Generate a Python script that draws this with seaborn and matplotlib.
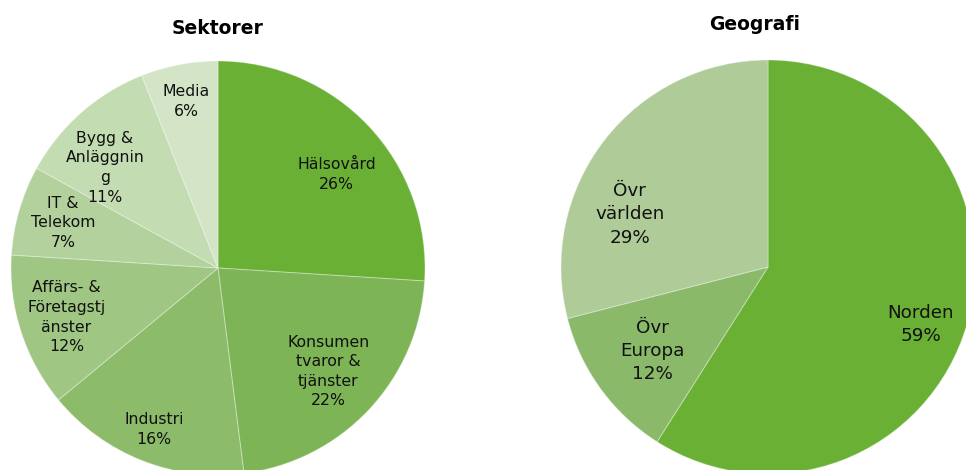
import numpy as np
import matplotlib
matplotlib.use("Agg")
import matplotlib.pyplot as plt
import seaborn as sns

# Sector split
sektor_labels = ["Hälsovård", "Konsumen\ntvaror &\ntjänster", "Industri",
                 "Affärs- &\nFöretagstj\nänster", "IT &\nTelekom",
                 "Bygg &\nAnläggnin\ng", "Media"]
sektor_pct = [26, 22, 16, 12, 7, 11, 6]

# Geographic split
geo_labels = ["Norden", "Övr\nEuropa", "Övr\nvärlden"]
geo_pct = [59, 12, 29]

sektor_colors = ["#6ab034", "#7db456", "#8cbb69", "#9fc683", "#b2d19c", "#c3dcb1", "#d4e4c7"]
geo_colors = ["#6ab034", "#8bb96a", "#aecb98"]

# label placement: distance from centre (fraction of radius) and angle nudge (deg)
sektor_dist = [0.73, 0.73, 0.84, 0.77, 0.78, 0.73, 0.82]
sektor_shift = [-5, 0, 0, 0, 0, 7, 0]
geo_dist = [0.79, 0.69, 0.715]
geo_shift = [-4.5, 0, 17]

sns.set_theme(style="white")
plt.rcParams["font.family"] = ["DejaVu Sans"]

fig = plt.figure(figsize=(9.66, 4.7), dpi=100)
W, H = 966, 470


def pie_axes(cx, cy, r):
    # square axes in pixels, placed so the pie centre lands at (cx, cy) from top-left
    return fig.add_axes([(cx - r) / W, (H - cy - r) / H, 2 * r / W, 2 * r / H])


def draw_pie(ax, values, labels, colors, dists, shifts, fsize):
    wedges, _ = ax.pie(values, colors=colors, startangle=90, counterclock=False,
                       radius=1.0,
                       wedgeprops=dict(edgecolor=(1, 1, 1, 0.3), linewidth=0.8))
    for w, lab, v, d, s in zip(wedges, labels, values, dists, shifts):
        ang = np.deg2rad((w.theta1 + w.theta2) / 2 + s)
        ax.text(d * np.cos(ang), d * np.sin(ang), f"{lab}\n{v}%",
                ha="center", va="center", fontsize=fsize, color="#111111",
                linespacing=1.38)
    ax.set_xlim(-1, 1)
    ax.set_ylim(-1, 1)
    ax.set_aspect("equal")
    ax.axis("off")


ax1 = pie_axes(218, 268, 207)
draw_pie(ax1, sektor_pct, sektor_labels, sektor_colors, sektor_dist, sektor_shift, 11.3)

ax2 = pie_axes(768, 267, 207)
draw_pie(ax2, geo_pct, geo_labels, geo_colors, geo_dist, geo_shift, 13.2)

fig.text(218 / W, 1 - 28 / H, "Sektorer", ha="center", va="center",
         fontsize=13.5, fontweight="bold", color="black")
fig.text(755 / W, 1 - 25 / H, "Geografi", ha="center", va="center",
         fontsize=13.5, fontweight="bold", color="black")

fig.savefig("out.png", dpi=100)
